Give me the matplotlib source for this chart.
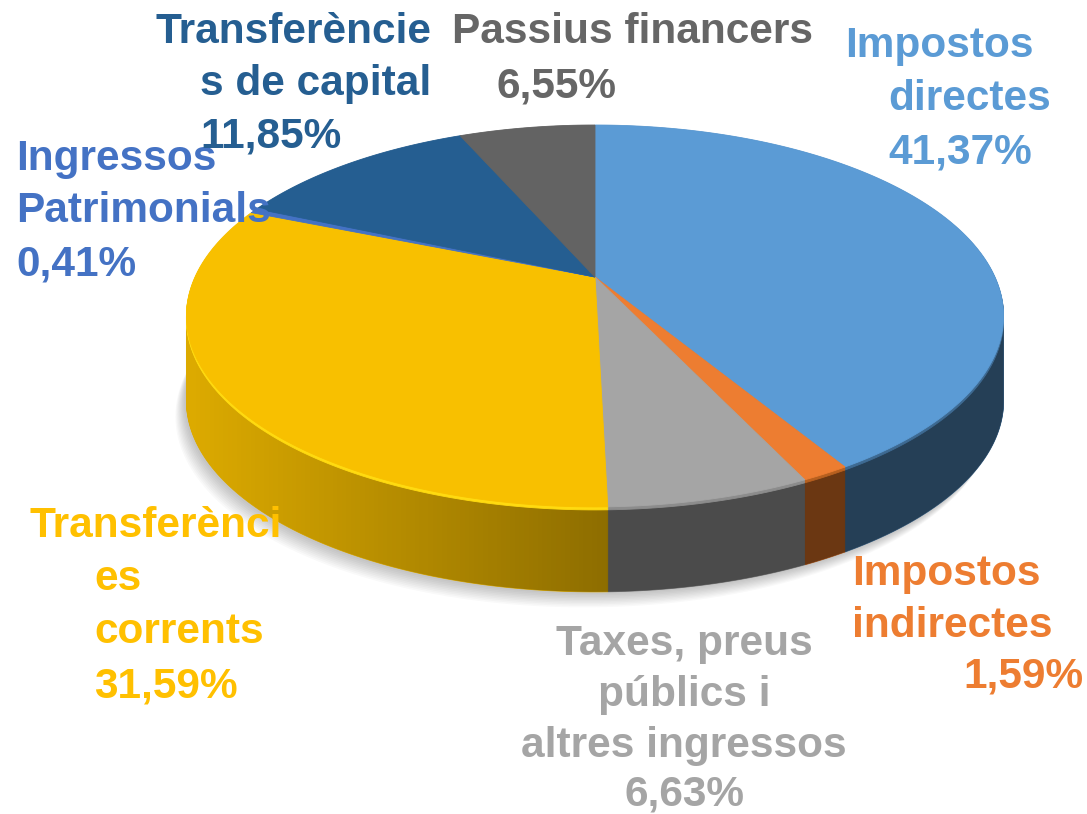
import numpy as np
import matplotlib
matplotlib.use("Agg")
import matplotlib.pyplot as plt
from matplotlib.path import Path
from matplotlib.transforms import Transform

# shares in %, clockwise from the top
names = ["Impostos directes", "Impostos indirectes", "Taxes, preus públics i altres ingressos",
         "Transferències corrents", "Ingressos Patrimonials", "Transferències de capital",
         "Passius financers"]
shares = [41.37, 1.59, 6.63, 31.59, 0.41, 11.85, 6.55]
top_colors = ["#5B9BD5", "#ED7D31", "#A5A5A5", "#F8C000", "#4472C4", "#255E91", "#636363"]
side_colors = ["#3A6286", "#A7561C", "#757575", "#DCAA00", "#2E4E86", "#173D5E", "#404040"]
rim_colors = ["#3E6A92", "#B8601F", "#8C8C8C", "#FFDA10", "#4472C4", "#255E91", "#636363"]
text_colors = ["#5B9BD5", "#ED7D31", "#A5A5A5", "#FFC000", "#4472C4", "#255E91", "#666666"]

# label lines as they are wrapped on the chart
label_lines = [
    ["Impostos", "directes"],
    ["Impostos", "indirectes"],
    ["Taxes, preus", "públics i", "altres ingressos"],
    ["Transferènci", "es", "corrents"],
    ["Ingressos", "Patrimonials"],
    ["Transferèncie", "s de capital"],
    ["Passius financers"],
]

# pixel anchors (x, baseline y, ha) for each line of each label
label_pos = [
    [(845, 57, "left"), (888, 110, "left"), (888, 163, "left")],
    [(852, 585, "left"), (852, 637, "left"), (1083, 687, "right")],
    [(684, 655, "center"), (684, 706, "center"), (684, 757, "center"), (684, 806, "center")],
    [(30, 537, "left"), (94, 590, "left"), (94, 643, "left"), (94, 697, "left")],
    [(16, 170, "left"), (16, 222, "left"), (16, 276, "left")],
    [(156, 43, "left"), (200, 95, "left"), (200, 147, "left")],
    [(452, 43, "left"), (496, 97, "left")],
]

W, H = 1087, 814
CX, CY, RX, RY, K = 595, 277, 400, 183, 0.204
DEPTH = 85


class Tilt(Transform):
    """unit-disc pie coords -> pixel coords of a tilted disc"""
    input_dims = output_dims = 2

    def __init__(self, drop=0.0, dx=0.0):
        super().__init__()
        self.drop = drop
        self.dx = dx

    def transform_non_affine(self, values):
        values = np.asarray(values, float)
        u, v = values[:, 0], values[:, 1]
        w = 1 + K * v
        return np.column_stack([CX + RX * u / w + self.dx, CY - RY * v / w + self.drop])

    def transform_path_non_affine(self, path):
        pts = [seg(np.linspace(0, 1, 40)) for seg, code in path.iter_bezier() if seg.degree > 0]
        return Path(self.transform_non_affine(np.concatenate(pts)))


fig = plt.figure(figsize=(W / 100, H / 100), dpi=100)
ax = fig.add_axes([0, 0, 1, 1])


def layer(colors, drop, dx=0.0, alpha=1.0, z=1):
    wedges, _ = ax.pie(shares, colors=colors, startangle=90, counterclock=False,
                       wedgeprops=dict(linewidth=0.6, alpha=alpha))
    for wd, c in zip(wedges, colors):
        wd.set_edgecolor(c if alpha == 1.0 else "none")
        wd.set_transform(Tilt(drop, dx) + ax.transData)
        wd.set_zorder(z)


# soft shadow under the disc
for i in range(10):
    layer(["#000000"] * len(shares), DEPTH + 2 + i * 1.5, dx=-2 - i, alpha=0.025, z=0)

# side wall: stacked copies of the pie
for d in np.arange(DEPTH, 0, -1.0):
    layer(side_colors, d, z=1)

# side shading, darker to the right, clipped to the disc silhouette
phi_r = -np.arcsin(K)
back = np.linspace(phi_r, np.pi - phi_r, 200)
front = np.linspace(np.pi - phi_r, 2 * np.pi + phi_r, 200)
sil = np.vstack([Tilt(0).transform(np.column_stack([np.cos(back), np.sin(back)])),
                 Tilt(DEPTH).transform(np.column_stack([np.cos(front), np.sin(front)]))])
ramp = np.zeros((1, 256, 4))
ramp[0, :, 3] = np.clip((np.linspace(0, W, 256) - 190) / (610 - 190), 0, 1) * 0.36
im = ax.imshow(ramp, extent=(0, W, H, 0), interpolation="bilinear", zorder=1.5)
im.set_clip_path(Path(sil), ax.transData)

# light bevel at the top edge
for d in (3.0, 2.0, 1.0):
    layer(rim_colors, d, z=1.6)

# top face
layer(top_colors, 0, z=2)

ax.set_xlim(0, W)
ax.set_ylim(H, 0)
ax.set_aspect("auto")
ax.axis("off")

for lines, pos, color, share in zip(label_lines, label_pos, text_colors, shares):
    text = lines + [f"{share:.2f}%".replace(".", ",")]
    for s, (x, y, ha) in zip(text, pos):
        ax.text(x, y, s, color=color, fontsize=30.5, fontweight="bold",
                family="Liberation Sans", ha=ha, va="baseline", zorder=5)

fig.savefig("out.png", dpi=100, facecolor="white")
